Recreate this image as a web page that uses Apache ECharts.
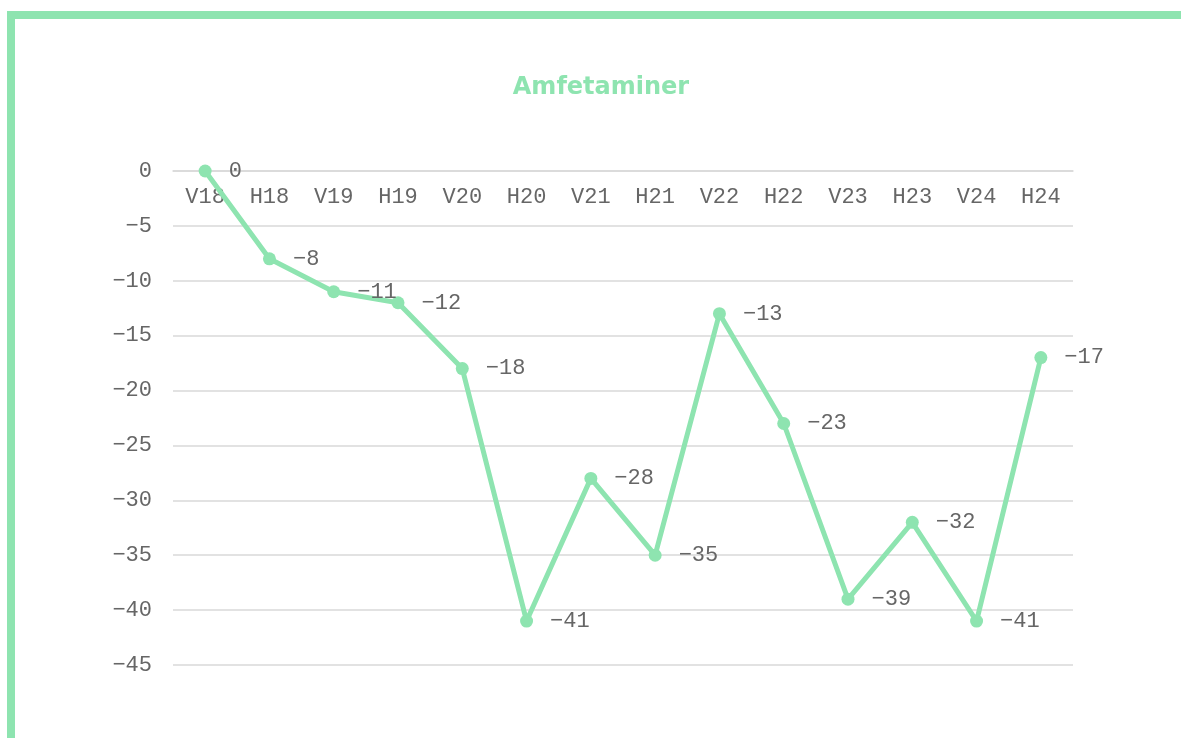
<!DOCTYPE html>
<html>
<head>
<meta charset="utf-8">
<script src="https://cdn.jsdelivr.net/npm/echarts@6/dist/echarts.min.js"></script>
<style>
  html, body { margin: 0; padding: 0; background: #fff; overflow: hidden; }
  .frame {
    position: absolute; left: 7px; top: 11px; width: 1300px; height: 900px;
    border-left: 8px solid #8ee4b0; border-top: 8px solid #8ee4b0;
  }
  #chart { position: absolute; left: 0; top: 0; width: 1181px; height: 738px; }
</style>
</head>
<body>
<div class="frame"></div>
<div id="chart"></div>
<script>
// perioder (V = vår, H = høst)
const periods = ['V18', 'H18', 'V19', 'H19', 'V20', 'H20', 'V21', 'H21', 'V22', 'H22', 'V23', 'H23', 'V24', 'H24'];
const values = [0, -8, -11, -12, -18, -41, -28, -35, -13, -23, -39, -32, -41, -17];
const yTicks = [0, -5, -10, -15, -20, -25, -30, -35, -40, -45];

const green = '#8ee4b0';
const mono = '"Liberation Mono", "Courier New", monospace';
// bruk ekte minustegn som i originalen
const minus = v => String(v).replace('-', '\u2212');

const chart = echarts.init(document.getElementById('chart'));
chart.setOption({
  animation: false,
  title: {
    text: 'Amfetaminer',
    left: 596,
    textAlign: 'center',
    top: 71,
    textStyle: { color: green, fontFamily: '"DejaVu Sans", sans-serif', fontWeight: 'bold', fontSize: 24 }
  },
  grid: { left: 173, right: 108, top: 171, bottom: 73 },
  xAxis: {
    type: 'category',
    data: periods,
    position: 'top',
    boundaryGap: true,
    axisLine: { lineStyle: { color: '#d9d9d9', width: 1.5 } },
    axisTick: { show: false },
    axisLabel: { inside: true, color: '#666', fontFamily: mono, fontSize: 22, margin: 15 }
  },
  yAxis: {
    type: 'value',
    min: yTicks[yTicks.length - 1],
    max: yTicks[0],
    interval: 5,
    axisLine: { show: false },
    axisTick: { show: false },
    splitLine: { lineStyle: { color: '#d9d9d9', width: 1.5 } },
    axisLabel: { color: '#666', fontFamily: mono, fontSize: 22, margin: 21, formatter: minus }
  },
  series: [{
    type: 'line',
    data: values,
    symbol: 'circle',
    symbolSize: 13,
    lineStyle: { color: green, width: 5 },
    itemStyle: { color: green },
    label: {
      show: true,
      position: 'right',
      distance: 17,
      color: '#666',
      fontFamily: mono,
      fontSize: 22,
      formatter: p => minus(p.value)
    }
  }]
});
</script>
</body>
</html>
